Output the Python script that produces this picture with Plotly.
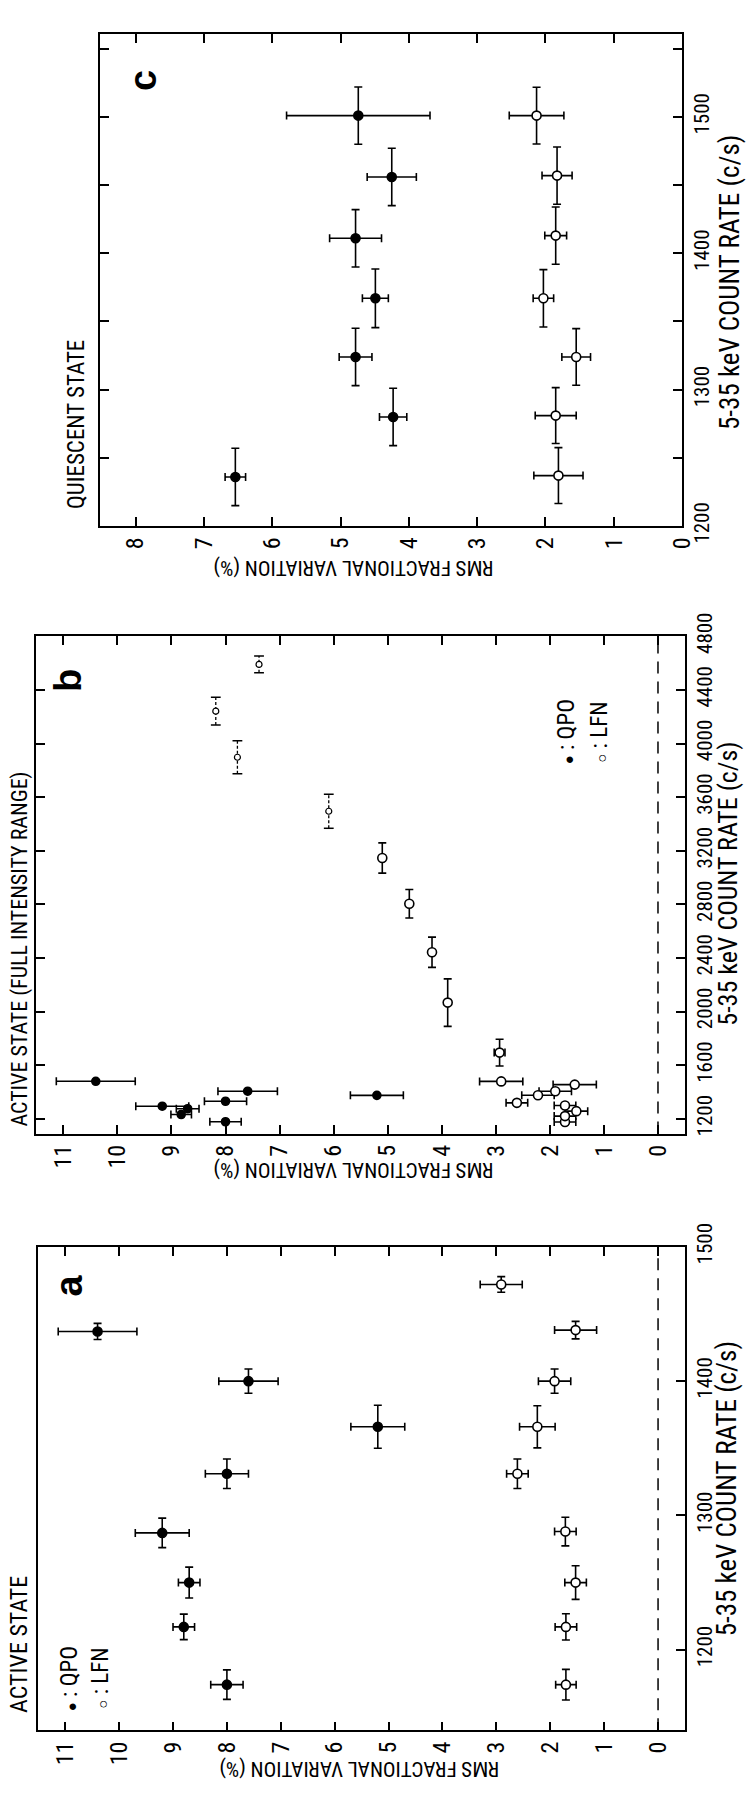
import plotly.graph_objects as go

# ---------------- data ----------------
# Panel a : ACTIVE STATE
a_qpo_rate = [1174, 1217, 1250, 1287, 1331, 1366, 1400, 1437]
a_qpo_rms = [8.0, 8.8, 8.7, 9.2, 8.0, 5.2, 7.6, 10.4]
a_qpo_rms_err = [0.3, 0.2, 0.2, 0.5, 0.4, 0.5, 0.55, 0.73]
a_qpo_rate_err = [11, 9.5, 11.5, 11, 11, 16, 9, 6]
a_lfn_rate = [1174, 1217, 1250, 1288, 1331, 1366, 1400, 1438, 1472]
a_lfn_rms = [1.71, 1.71, 1.53, 1.72, 2.61, 2.24, 1.92, 1.53, 2.91]
a_lfn_rms_err = [0.19, 0.2, 0.2, 0.2, 0.2, 0.33, 0.3, 0.39, 0.39]
a_lfn_rate_err = [11.4, 9.8, 12.5, 10.7, 11, 15.7, 9, 6.5, 5.8]

# Panel b : ACTIVE STATE (FULL INTENSITY RANGE)
b_qpo_rate = [1178, 1232, 1275, 1294, 1331, 1375, 1406, 1480]
b_qpo_rms = [8.0, 8.82, 8.70, 9.17, 8.0, 5.2, 7.59, 10.4]
b_qpo_rms_err = [0.29, 0.19, 0.21, 0.49, 0.39, 0.49, 0.55, 0.73]
b_lfn_rate = [1176, 1220, 1257, 1299, 1319, 1376, 1405, 1455, 1479, 1694, 2067, 2443, 2805, 3146]
b_lfn_rms = [1.72, 1.72, 1.51, 1.72, 2.61, 2.22, 1.90, 1.54, 2.90, 2.93, 3.89, 4.18, 4.60, 5.10]
b_lfn_rms_err = [0.2, 0.2, 0.21, 0.2, 0.2, 0.3, 0.3, 0.4, 0.4, 0.1, 0, 0, 0, 0]
b_lfn_rate_err = [0, 0, 0, 0, 0, 0, 0, 0, 0, 100, 177, 113, 106, 113]
b_ext_rate = [3495, 3898, 4242, 4591]
b_ext_rms = [6.09, 7.78, 8.18, 7.38]
b_ext_rate_err = [127, 124, 103, 62]

# Panel c : QUIESCENT STATE
c_qpo_rate = [1236, 1280, 1324, 1367, 1411, 1456, 1501]
c_qpo_rms = [6.54, 4.23, 4.78, 4.49, 4.78, 4.25, 4.74]
c_qpo_rms_err = [0.15, 0.2, 0.24, 0.19, 0.38, 0.36, 1.05]
c_qpo_rate_err = [21, 21, 21, 21.5, 21, 21, 21]
c_lfn_rate = [1237, 1281, 1324, 1367, 1413, 1457, 1501]
c_lfn_rms = [1.81, 1.85, 1.55, 2.03, 1.85, 1.83, 2.13]
c_lfn_rms_err = [0.36, 0.3, 0.21, 0.15, 0.16, 0.22, 0.4]
c_lfn_rate_err = [20.5, 20.5, 20.8, 21, 21, 21, 20.8]

rms_ticks_ab = list(range(0, 12))
rms_ticks_c = list(range(0, 9))

# ---------------- layout helpers ----------------
W, H = 752, 1803
FONT = "Liberation Sans Narrow, Roboto Condensed, Roboto, sans-serif"
BOLD = "Liberation Sans, Arial, sans-serif"
BLACK = "black"


def px(x):
    return x / W


def py(y):
    return 1 - y / H


fig = go.Figure()


def err_trace(xs, ys, ex, ey, xa, ya, filled, size=9):
    fig.add_trace(go.Scatter(
        x=xs, y=ys, mode="markers", xaxis=xa, yaxis=ya, showlegend=False,
        marker=dict(size=size, color=BLACK if filled else "white",
                    line=dict(color=BLACK, width=1.6)),
        error_x=dict(type="data", array=ex, visible=True, color=BLACK,
                     thickness=1.6, width=4),
        error_y=dict(type="data", array=ey, visible=True, color=BLACK,
                     thickness=1.6, width=4),
    ))


# panel a  (x3/y3 at bottom)
err_trace(a_qpo_rms, a_qpo_rate, a_qpo_rms_err, a_qpo_rate_err, "x3", "y3", True)
err_trace(a_lfn_rms, a_lfn_rate, a_lfn_rms_err, a_lfn_rate_err, "x3", "y3", False)

# panel b (x2/y2)
err_trace(b_qpo_rms, b_qpo_rate, b_qpo_rms_err, [0] * len(b_qpo_rms), "x2", "y2", True, size=8)
err_trace(b_lfn_rms, b_lfn_rate, b_lfn_rms_err, b_lfn_rate_err, "x2", "y2", False, size=9)

# dashed error bars for the extended-range points
dx, dy = [], []
for r, v, e in zip(b_ext_rms, b_ext_rate, b_ext_rate_err):
    dx += [r, r, None]
    dy += [v - e, v + e, None]
fig.add_trace(go.Scatter(x=dx, y=dy, mode="lines", xaxis="x2", yaxis="y2", showlegend=False,
                         line=dict(color=BLACK, width=1.3, dash="3px,2px")))
fig.add_trace(go.Scatter(
    x=b_ext_rms + b_ext_rms,
    y=[v - e for v, e in zip(b_ext_rate, b_ext_rate_err)] + [v + e for v, e in zip(b_ext_rate, b_ext_rate_err)],
    mode="markers", xaxis="x2", yaxis="y2", showlegend=False,
    marker=dict(symbol="line-ew", size=7, line=dict(color=BLACK, width=1.5))))
fig.add_trace(go.Scatter(x=b_ext_rms, y=b_ext_rate, mode="markers", xaxis="x2", yaxis="y2",
                         showlegend=False,
                         marker=dict(size=6, color="white", line=dict(color=BLACK, width=1.2))))

# panel c (x/y at top)
err_trace(c_qpo_rms, c_qpo_rate, c_qpo_rms_err, c_qpo_rate_err, "x", "y", True)
err_trace(c_lfn_rms, c_lfn_rate, c_lfn_rms_err, c_lfn_rate_err, "x", "y", False)

xtickfont = dict(family=FONT, size=24, color=BLACK)
ytickfont = dict(family=FONT, size=21, color=BLACK)


def xax(domain, rng, ticks, anchor):
    return dict(domain=domain, range=rng, anchor=anchor, tickmode="array", tickvals=ticks,
                ticktext=[str(t) for t in ticks], ticks="inside", ticklen=9, tickwidth=1.5,
                tickcolor=BLACK, showline=True, linecolor=BLACK, linewidth=1.5, mirror="ticks",
                showgrid=False, zeroline=False, tickangle=-90, tickfont=xtickfont)


def yax(domain, rng, tick0, dtick, anchor, mirror, minor=None):
    d = dict(domain=domain, range=rng, anchor=anchor, side="right", tick0=tick0, dtick=dtick,
             ticks="inside", ticklen=9, tickwidth=1.5, tickcolor=BLACK, showline=True,
             linecolor=BLACK, linewidth=1.5, mirror=mirror, showgrid=False, zeroline=False,
             tickangle=-90, tickfont=ytickfont)
    if minor:
        d["minor"] = minor
    return d


fig.update_layout(
    width=W, height=H, margin=dict(l=0, r=0, t=0, b=0),
    paper_bgcolor="white", plot_bgcolor="white", showlegend=False,
    # panel c
    xaxis=xax([px(102), px(695)], [8.52, 0], rms_ticks_c, "y"),
    yaxis=yax([py(514), py(10)], [1200, 1561], 1200, 100, "x", "ticks",
              minor=dict(dtick=50, tick0=1200, ticks="inside", ticklen=9, tickwidth=1.5, tickcolor=BLACK)),
    # panel b
    xaxis2=xax([px(37), px(698)], [11.5, -0.5], rms_ticks_ab, "y2"),
    yaxis2=yax([py(1136), py(627)], [1090, 4800], 1200, 400, "x2", "ticks"),
    # panel a
    xaxis3=xax([px(39), px(698)], [11.5, -0.5], rms_ticks_ab, "y3"),
    yaxis3=yax([py(1747), py(1252)], [1140, 1500], 1200, 100, "x3", True),
)

# dashed zero lines
for xr, yr in (("x2", "y2 domain"), ("x3", "y3 domain")):
    fig.add_shape(type="line", xref=xr, yref=yr, x0=0, x1=0, y0=0, y1=1,
                  line=dict(color=BLACK, width=1.5, dash="12px,8px"))


def note(text, x, y, angle, size=20, family=FONT):
    fig.add_annotation(text=text, x=px(x), y=py(y), xref="paper", yref="paper",
                       showarrow=False, textangle=angle, xanchor="center", yanchor="middle",
                       font=dict(family=family, size=size, color=BLACK))


RMS_T = "RMS FRACTIONAL VARIATION (%)"
CR_T = "5-35 keV COUNT RATE (c/s)"
QPO_L = '<span style="font-size:15px">\u25cf</span> : QPO'
LFN_L = '<span style="font-size:15px">\u25cb</span> : LFN'

# panel a texts
note(RMS_T, 366, 1786, 180, size=21)
note(CR_T, 741, 1500, -90, size=27)
note("ACTIVE STATE", 20, 1659, -90, size=24)
note(QPO_L, 71, 1694, -90, size=23)
note(LFN_L, 102, 1694, -90, size=23)
note("<b>a</b>", 70, 1292, -90, size=38, family=BOLD)

# panel b texts
note(RMS_T, 360, 1174, 180, size=21)
note(CR_T, 741, 880, -90, size=26)
note("ACTIVE STATE (FULL INTENSITY RANGE)", 20, 947, -90, size=22)
note(QPO_L, 577, 725, -90, size=23)
note(LFN_L, 610, 725, -90, size=23)
note("<b>b</b>", 70, 672, -90, size=38, family=BOLD)

# panel c texts
note(RMS_T, 360, 557, 180, size=21)
note(CR_T, 744, 265, -90, size=27)
note("QUIESCENT STATE", 78, 410, -90, size=23)
note("<b>c</b>", 145, 58, -90, size=38, family=BOLD)

fig.write_html("out.html")
